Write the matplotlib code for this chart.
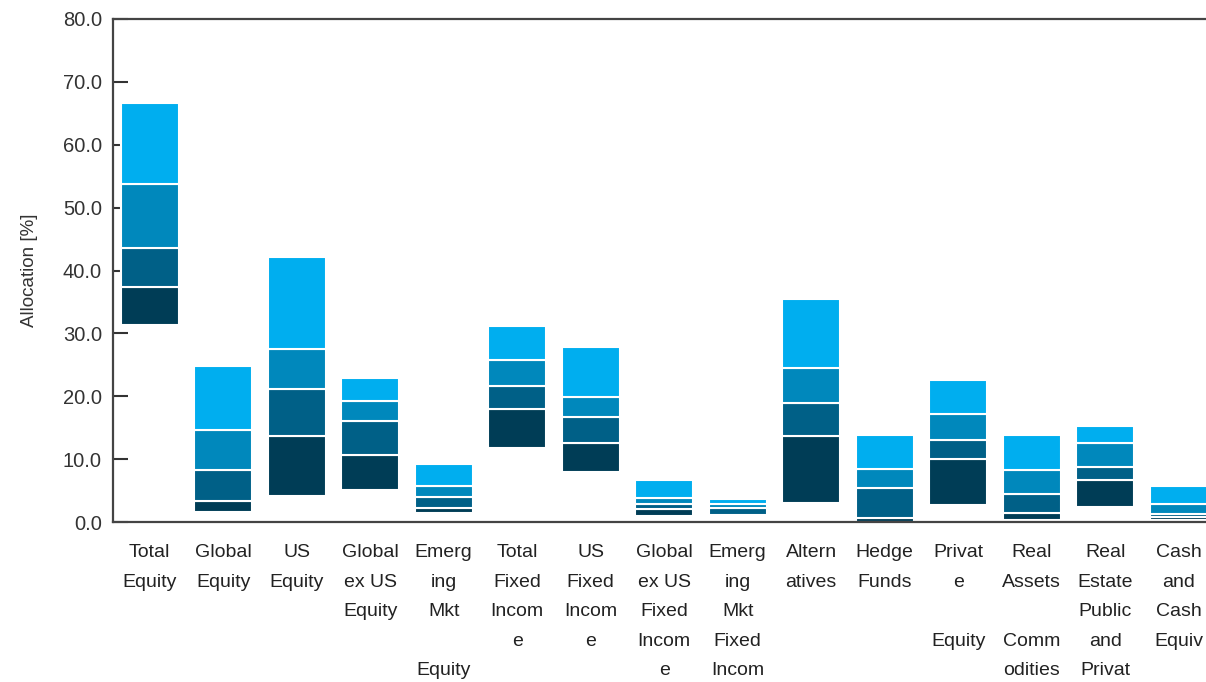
import matplotlib
matplotlib.use("Agg")
import matplotlib.pyplot as plt
import numpy as np

categories = [
    "Total\nEquity", "Global\nEquity", "US\nEquity", "Global\nex US\nEquity",
    "Emerg\ning\nMkt\n\nEquity", "Total\nFixed\nIncom\ne", "US\nFixed\nIncom\ne",
    "Global\nex US\nFixed\nIncom\ne", "Emerg\ning\nMkt\nFixed\nIncom", "Altern\natives",
    "Hedge\nFunds", "Privat\ne\n\nEquity", "Real\nAssets\n\nComm\nodities",
    "Real\nEstate\nPublic\nand\nPrivat", "Cash\nand\nCash\nEquiv",
]

p5  = [31.4, 1.6, 4.2, 5.1, 1.5, 11.7, 8.0, 1.0, 1.0, 3.1, 0.0, 2.7, 0.3, 2.4, 0.3]
p25 = [37.4, 3.3, 13.6, 10.7, 2.3, 18.0, 12.5, 2.0, 1.1, 13.7, 0.7, 10.0, 1.4, 6.7, 0.8]
p50 = [43.6, 8.3, 21.2, 16.0, 3.9, 21.7, 16.7, 2.9, 2.2, 19.0, 5.4, 13.1, 4.5, 8.8, 1.2]
p75 = [53.7, 14.6, 27.5, 19.2, 5.8, 25.8, 19.9, 3.8, 2.9, 24.5, 8.4, 17.1, 8.2, 12.5, 2.9]
p95 = [66.6, 24.8, 42.2, 22.9, 9.2, 31.2, 27.8, 6.7, 3.7, 35.5, 13.8, 22.6, 13.8, 15.2, 5.8]

yticks = [0, 10, 20, 30, 40, 50, 60, 70, 80]

colors = ["#003d56", "#006087", "#0088bc", "#00aeef"]

plt.rcParams["font.family"] = ["Liberation Sans", "DejaVu Sans"]

fig = plt.figure(figsize=(12.06, 6.82), dpi=100)
ax = fig.add_axes([113 / 1206, 160 / 682, 1102.5 / 1206, 503 / 682])

x = np.arange(len(categories))
levels = [p5, p25, p50, p75, p95]
for i in range(4):
    lo = np.array(levels[i])
    hi = np.array(levels[i + 1])
    ax.bar(x, hi - lo, bottom=lo, width=0.79, color=colors[i],
           edgecolor="white", linewidth=1.5, zorder=2)

ax.set_xlim(-0.5, len(categories) - 0.5)
ax.set_ylim(0, 80)
ax.set_yticks(yticks)
ax.set_yticklabels([f"{v:.1f}" for v in yticks], fontsize=14.5, color="#333333")
ax.set_xticks(x)
ax.set_xticklabels(categories, fontsize=14, color="#222222", va="top",
                   linespacing=1.96)
ax.tick_params(axis="y", direction="in", length=11, width=1.5, color="#333333", pad=8)
ax.tick_params(axis="x", length=0, pad=16)

for s in ["left", "bottom", "top"]:
    ax.spines[s].set_color("#444444")
    ax.spines[s].set_linewidth(1.6)
ax.spines["right"].set_visible(False)

ax.set_ylabel("Allocation [%]", fontsize=13.5, color="#333333", labelpad=18)

fig.savefig("out.png", dpi=100)
